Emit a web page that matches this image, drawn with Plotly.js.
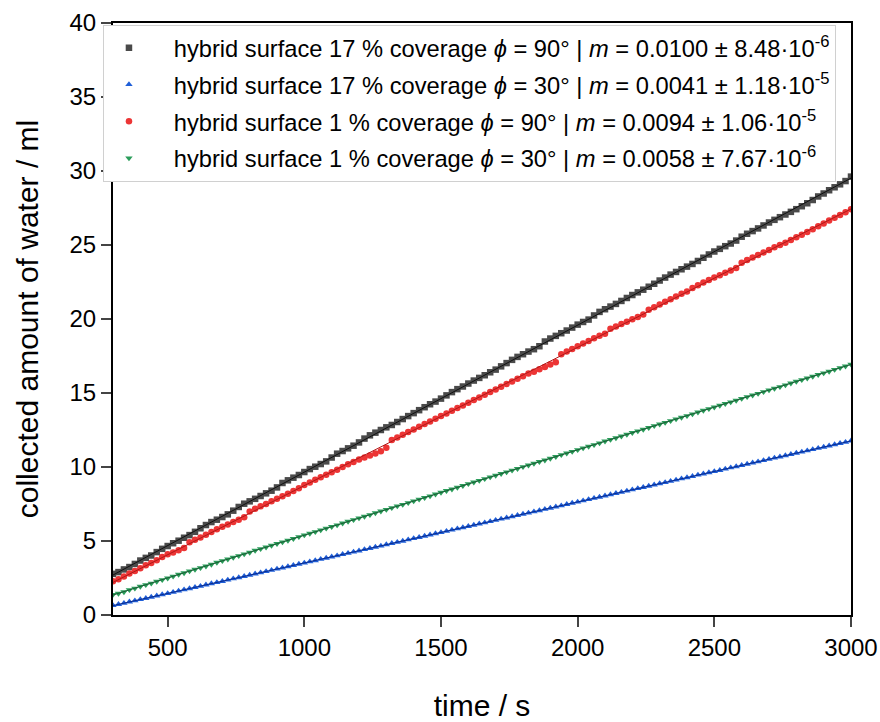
<!DOCTYPE html>
<html>
<head>
<meta charset="utf-8">
<script src="https://cdn.plot.ly/plotly-3.0.1.min.js"></script>
<style>html,body{margin:0;padding:0;background:#fff;}#chart{width:880px;height:722px;}</style>
</head>
<body>
<div id="chart"></div>
<script>
const time = [300,320,340,360,380,400,420,440,460,480,500,520,540,560,580,600,620,640,660,680,700,720,740,760,780,800,820,840,860,880,900,920,940,960,980,1000,1020,1040,1060,1080,1100,1120,1140,1160,1180,1200,1220,1240,1260,1280,1300,1320,1340,1360,1380,1400,1420,1440,1460,1480,1500,1520,1540,1560,1580,1600,1620,1640,1660,1680,1700,1720,1740,1760,1780,1800,1820,1840,1860,1880,1900,1920,1940,1960,1980,2000,2020,2040,2060,2080,2100,2120,2140,2160,2180,2200,2220,2240,2260,2280,2300,2320,2340,2360,2380,2400,2420,2440,2460,2480,2500,2520,2540,2560,2580,2600,2620,2640,2660,2680,2700,2720,2740,2760,2780,2800,2820,2840,2860,2880,2900,2920,2940,2960,2980,3000];

const s17_90 = [2.78,2.90,3.08,3.24,3.45,3.68,3.86,4.02,4.25,4.47,4.66,4.85,5.02,5.22,5.40,5.62,5.86,6.08,6.28,6.44,6.62,6.80,7.05,7.30,7.52,7.68,7.85,8.04,8.22,8.40,8.62,8.92,9.10,9.28,9.46,9.66,9.86,10.02,10.20,10.38,10.64,10.90,11.08,11.26,11.44,11.66,11.92,12.14,12.32,12.50,12.68,12.84,13.04,13.24,13.44,13.64,13.84,14.04,14.24,14.42,14.62,14.84,15.06,15.26,15.44,15.64,15.84,16.02,16.20,16.40,16.58,16.80,17.02,17.24,17.44,17.62,17.80,17.96,18.16,18.48,18.68,18.86,19.04,19.22,19.42,19.62,19.80,19.96,20.24,20.48,20.66,20.84,21.02,21.22,21.42,21.62,21.80,21.98,22.18,22.38,22.60,22.80,23.00,23.18,23.36,23.54,23.72,23.92,24.14,24.36,24.56,24.74,24.92,25.10,25.30,25.56,25.76,25.94,26.12,26.32,26.52,26.70,26.88,27.06,27.24,27.42,27.62,27.82,28.04,28.28,28.48,28.70,28.90,29.10,29.32,29.62];

const s17_30 = [0.65,0.72,0.80,0.89,0.97,1.05,1.13,1.21,1.30,1.38,1.46,1.54,1.63,1.71,1.79,1.87,1.95,2.04,2.12,2.20,2.28,2.37,2.45,2.53,2.61,2.70,2.78,2.86,2.94,3.03,3.11,3.19,3.27,3.36,3.44,3.52,3.60,3.68,3.77,3.85,3.93,4.01,4.10,4.18,4.26,4.34,4.43,4.51,4.59,4.67,4.76,4.84,4.92,5.00,5.09,5.17,5.25,5.33,5.42,5.50,5.58,5.66,5.75,5.83,5.91,5.99,6.08,6.16,6.24,6.32,6.41,6.49,6.57,6.65,6.74,6.82,6.90,6.98,7.06,7.15,7.23,7.31,7.39,7.48,7.56,7.64,7.72,7.81,7.89,7.97,8.05,8.14,8.22,8.30,8.38,8.47,8.55,8.63,8.71,8.80,8.88,8.96,9.04,9.13,9.21,9.29,9.37,9.46,9.54,9.62,9.70,9.78,9.87,9.95,10.03,10.11,10.20,10.28,10.36,10.44,10.53,10.61,10.69,10.77,10.86,10.94,11.02,11.10,11.19,11.27,11.35,11.43,11.52,11.60,11.68,11.77];

const s1_90 = [2.28,2.42,2.60,2.80,2.98,3.16,3.36,3.52,3.70,3.92,4.10,4.22,4.38,4.52,4.92,5.08,5.24,5.42,5.60,5.80,5.96,6.12,6.28,6.44,6.60,7.00,7.18,7.34,7.50,7.68,7.86,8.02,8.20,8.38,8.56,8.78,8.96,9.14,9.30,9.48,9.64,9.82,10.00,10.18,10.34,10.50,10.64,10.78,10.92,11.06,11.30,11.82,12.00,12.18,12.36,12.54,12.72,12.90,13.08,13.26,13.44,13.62,13.80,13.98,14.16,14.34,14.52,14.70,14.88,15.06,15.24,15.42,15.60,15.78,15.96,16.14,16.32,16.44,16.60,16.76,16.92,17.08,17.62,17.80,17.98,18.16,18.34,18.52,18.70,18.86,19.00,19.34,19.50,19.66,19.82,19.98,20.14,20.30,20.62,20.80,20.98,21.16,21.34,21.52,21.70,21.86,22.10,22.28,22.46,22.64,22.80,22.96,23.12,23.28,23.44,23.80,23.98,24.16,24.32,24.50,24.66,24.84,25.00,25.16,25.34,25.52,25.70,25.88,26.06,26.26,26.46,26.66,26.84,27.02,27.22,27.42];

const s1_30 = [1.38,1.46,1.56,1.70,1.80,1.93,2.04,2.14,2.27,2.38,2.49,2.61,2.74,2.84,2.97,3.08,3.19,3.30,3.42,3.55,3.66,3.77,3.89,4.00,4.12,4.23,4.36,4.47,4.58,4.70,4.82,4.93,5.04,5.16,5.28,5.40,5.51,5.62,5.74,5.86,5.97,6.08,6.20,6.32,6.43,6.55,6.66,6.77,6.90,7.01,7.12,7.24,7.36,7.46,7.58,7.70,7.82,7.93,8.04,8.16,8.28,8.40,8.50,8.62,8.74,8.86,8.97,9.08,9.20,9.32,9.43,9.55,9.66,9.78,9.89,10.01,10.12,10.24,10.36,10.46,10.58,10.70,10.82,10.93,11.04,11.16,11.28,11.39,11.50,11.62,11.74,11.85,11.96,12.08,12.20,12.32,12.43,12.54,12.66,12.78,12.89,13.00,13.12,13.24,13.35,13.46,13.58,13.70,13.82,13.93,14.04,14.16,14.28,14.39,14.50,14.62,14.74,14.85,14.96,15.08,15.20,15.31,15.42,15.54,15.66,15.78,15.89,16.00,16.12,16.24,16.35,16.46,16.58,16.70,16.81,16.94];

const pad = '\u00A0\u00A0\u00A0';
const names = [
  pad + 'hybrid surface 17 % coverage <i>ϕ</i> = 90° | <i>m</i> = 0.0100 ± 8.48·10<sup>-6</sup>',
  pad + 'hybrid surface 17 % coverage <i>ϕ</i> = 30° | <i>m</i> = 0.0041 ± 1.18·10<sup>-5</sup>',
  pad + 'hybrid surface 1 % coverage <i>ϕ</i> = 90° | <i>m</i> = 0.0094 ± 1.06·10<sup>-5</sup>',
  pad + 'hybrid surface 1 % coverage <i>ϕ</i> = 30° | <i>m</i> = 0.0058 ± 7.67·10<sup>-6</sup>'
];
const seriesList = [s17_90, s17_30, s1_90, s1_30];
const markerColors = ['#4a4a4a', '#1f5fd8', '#ec3535', '#2a9d5a'];
const fitColors = ['#111111', '#0b2a8c', '#b01818', '#1d5a35'];
const symbols = ['square', 'triangle-up', 'circle', 'triangle-down'];
const xTicks = [500, 1000, 1500, 2000, 2500, 3000];

function linfit(x, y) {
  const n = x.length;
  let sx = 0, sy = 0, sxx = 0, sxy = 0;
  for (let i = 0; i < n; i++) { sx += x[i]; sy += y[i]; sxx += x[i]*x[i]; sxy += x[i]*y[i]; }
  const m = (n*sxy - sx*sy) / (n*sxx - sx*sx);
  const b = (sy - m*sx) / n;
  return [m, b];
}

const traces = [];
seriesList.forEach((s, i) => {
  traces.push({
    x: time, y: s, type: 'scatter', mode: 'markers', name: names[i],
    legendgroup: 'g' + i,
    marker: {symbol: symbols[i], size: 6.5, color: markerColors[i], line: {width: 0}}
  });
});
seriesList.forEach((s, i) => {
  const [m, b] = linfit(time, s);
  const x0 = time[0], x1 = time[time.length - 1];
  traces.push({
    x: [x0, x1], y: [m*x0 + b, m*x1 + b], type: 'scatter', mode: 'lines',
    showlegend: false, hoverinfo: 'skip',
    line: {color: fitColors[i], width: 1}
  });
});

const font = 'Liberation Sans, Arial, sans-serif';
const layout = {
  width: 880, height: 722,
  margin: {l: 113, r: 29, t: 23, b: 107},
  paper_bgcolor: '#fff', plot_bgcolor: '#fff',
  font: {family: font, color: '#000'},
  showlegend: true,
  legend: {
    x: -0.0136, y: 0.997, xanchor: 'left', yanchor: 'top',
    bgcolor: '#fff', bordercolor: '#d0d0d0', borderwidth: 1,
    font: {family: font, size: 23.7, color: '#000'},
    tracegroupgap: 3, itemwidth: 40
  },
  xaxis: {
    range: [300, 3000], tickvals: xTicks, ticks: 'outside', ticklen: 10, tickwidth: 2,
    showline: true, linewidth: 2, linecolor: '#000', mirror: true,
    showgrid: false, zeroline: false,
    tickfont: {family: font, size: 24, color: '#000'},
    title: {text: 'time / s', font: {family: font, size: 30, color: '#000'}, standoff: 38}
  },
  yaxis: {
    range: [0, 40], dtick: 5, ticks: 'outside', ticklen: 10, tickwidth: 2,
    showline: true, linewidth: 2, linecolor: '#000', mirror: true,
    showgrid: false, zeroline: false,
    tickfont: {family: font, size: 24, color: '#000'},
    title: {text: 'collected amount of water / ml', font: {family: font, size: 30, color: '#000'}, standoff: 22}
  }
};

Plotly.newPlot('chart', traces, layout, {displayModeBar: false, staticPlot: true});
</script>
</body>
</html>
